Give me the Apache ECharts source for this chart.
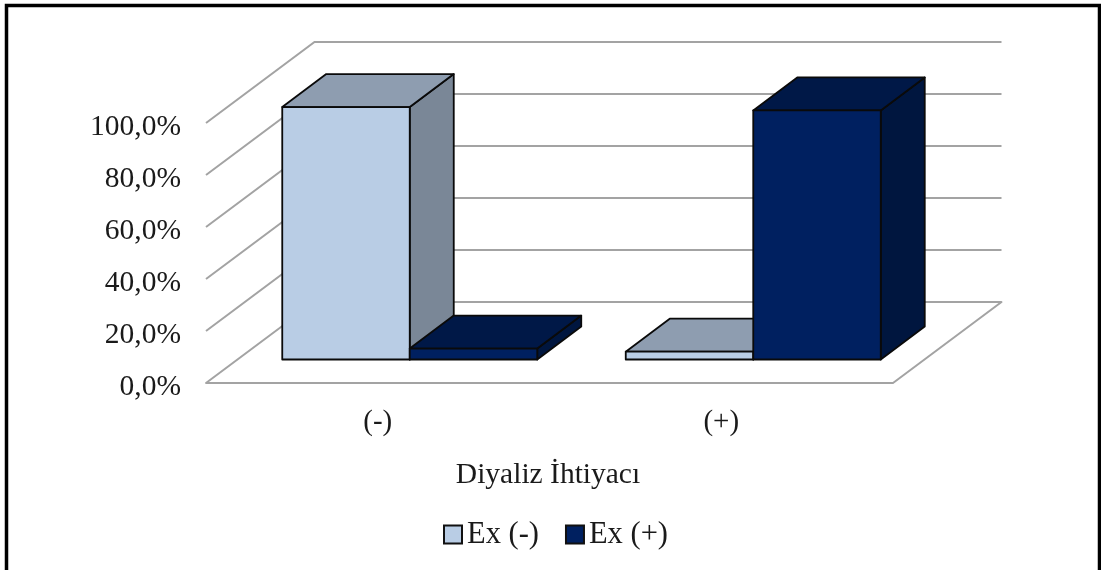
<!DOCTYPE html>
<html><head><meta charset="utf-8">
<style>html,body{margin:0;padding:0;background:#fff}#c{width:1101px;height:570px}</style>
<script src="https://cdn.jsdelivr.net/npm/echarts@6/dist/echarts.min.js"></script>
</head><body><div id="c"></div>
<script>
var categories = ['(-)', '(+)'];
var exNeg = [97.1, 3.0];
var exPos = [4.2, 95.8];
var yTicks = [0, 20, 40, 60, 80, 100];
var seriesNames = ['Ex (-)', 'Ex (+)'];
var axisTitle = 'Diyaliz İhtiyacı';

var FONT = '"Liberation Serif","Times New Roman",serif';
var DEPTH_X = 108.5, DEPTH_Y = 81;      // whole floor depth
var FRONT_X = 32, FRONT_Y = 23.5;       // gap between floor edge and bar front
var BAR_DX = 44, BAR_DY = 33;           // bar depth
var BAR_W = 127.5;
var LINE = '#0a0a0a';
var faces = [
  {front:'#B9CDE5', top:'#8E9DB0', side:'#7A8797'},
  {front:'#002060', top:'#001847', side:'#00163F'}
];

function poly(points, fill, stroke, width) {
  return {type:'polygon', shape:{points:points},
    style:{fill:fill, stroke:stroke, lineWidth:width, lineJoin:'round'}};
}
function renderGrid(params, api) {
  var cs = params.coordSys, y = api.coord([0, api.value(1)])[1], kids = [];
  if (api.value(1) === 0) {
    kids.push(poly([[cs.x,y],[cs.x+cs.width,y],[cs.x+cs.width+DEPTH_X,y-DEPTH_Y],[cs.x+DEPTH_X,y-DEPTH_Y]],'#fff','#A3A3A3',2));
  } else {
    kids.push({type:'polyline', shape:{points:[[cs.x,y],[cs.x+DEPTH_X,y-DEPTH_Y],[cs.x+cs.width+DEPTH_X,y-DEPTH_Y]]},
      style:{fill:null, stroke:'#A3A3A3', lineWidth:2}});
  }
  return {type:'group', children:kids};
}
function renderBar(params, api) {
  var s = params.seriesIndex - 1, f = faces[s];
  var base = api.coord([api.value(0), 0]), tip = api.coord([api.value(0), api.value(1)]);
  var x0 = base[0] + FRONT_X + (s === 0 ? -BAR_W : 0), x1 = x0 + BAR_W;
  var yb = base[1] - FRONT_Y, yt = tip[1] - FRONT_Y;
  return {type:'group', children:[
    poly([[x1,yb],[x1+BAR_DX,yb-BAR_DY],[x1+BAR_DX,yt-BAR_DY],[x1,yt]], f.side, LINE, 1.8),
    poly([[x0,yt],[x1,yt],[x1+BAR_DX,yt-BAR_DY],[x0+BAR_DX,yt-BAR_DY]], f.top, LINE, 1.8),
    poly([[x0,yb],[x1,yb],[x1,yt],[x0,yt]], f.front, LINE, 1.8)
  ]};
}
function barData(vals) { return vals.map(function (v, i) { return [i, v]; }); }

var chart = echarts.init(document.getElementById('c'), null, {renderer:'canvas'});
chart.setOption({
  animation:false,
  backgroundColor:'#fff',
  grid:{left:206, top:123, width:687, height:260, containLabel:false},
  graphic:[{type:'rect', z:100, silent:true, shape:{x:6.5, y:5.5, width:1093, height:600},
    style:{fill:null, stroke:'#000', lineWidth:3.5}}],
  xAxis:{type:'category', data:categories, name:axisTitle, nameLocation:'middle', nameGap:77,
    nameTextStyle:{fontFamily:FONT, fontSize:29.5, color:'#1a1a1a', padding:[0,3,0,0]},
    axisLine:{show:false}, axisTick:{show:false},
    axisLabel:{fontFamily:FONT, fontSize:29, color:'#1a1a1a', margin:25}},
  yAxis:{type:'value', min:0, max:100, interval:20, splitLine:{show:false},
    axisLine:{show:false}, axisTick:{show:false},
    axisLabel:{fontFamily:FONT, fontSize:29.5, color:'#1a1a1a', margin:25, verticalAlign:'top', lineHeight:8,
      formatter:function (v) { return v.toFixed(1).replace('.', ',') + '%'; }}},
  legend:{data:seriesNames, left:438, top:514, icon:'rect', itemWidth:18, itemHeight:18, itemGap:26,
    textStyle:{fontFamily:FONT, fontSize:30.5, color:'#1a1a1a', padding:[0,0,0,0]},
    itemStyle:{borderColor:'#111', borderWidth:2}},
  series:[
    {type:'custom', name:'grid', renderItem:renderGrid, silent:true,
     data:yTicks.map(function (t) { return [0, t]; }), encode:{x:0, y:1}, z:1},
    {type:'custom', name:seriesNames[0], renderItem:renderBar, data:barData(exNeg),
     encode:{x:0, y:1}, itemStyle:{color:faces[0].front}, z:2},
    {type:'custom', name:seriesNames[1], renderItem:renderBar, data:barData(exPos),
     encode:{x:0, y:1}, itemStyle:{color:faces[1].front}, z:3}
  ]
});
</script></body></html>
